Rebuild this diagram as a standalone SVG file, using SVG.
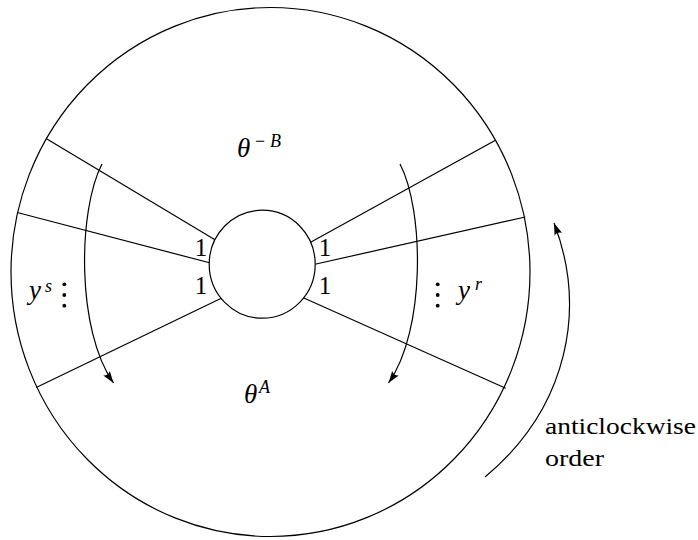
<svg xmlns="http://www.w3.org/2000/svg" width="698" height="540" viewBox="0 0 698 540" font-family="'Times New Roman', 'Liberation Serif', serif">
<defs>
<marker id="ah" viewBox="-13 -5 14 10" refX="0" refY="0" markerWidth="14" markerHeight="10" orient="auto" markerUnits="userSpaceOnUse">
<path d="M0,0 L-12,-4 Q-9,0 -12,4 Z" fill="#000"/>
</marker>
</defs>
<g id="outer" fill="none" stroke="#000" stroke-width="1.2">
<ellipse cx="270.5" cy="272" rx="259.5" ry="264.5"/>
</g>
<g id="connectors" fill="none" stroke="#000" stroke-width="1.2">
<line x1="46.5" y1="138.8" x2="222" y2="244"/>
<line x1="17.2" y1="212.5" x2="220" y2="265.5"/>
<line x1="36.2" y1="387.5" x2="228" y2="295"/>
<line x1="495" y1="140.5" x2="302" y2="247"/>
<line x1="525.3" y1="217" x2="305" y2="266.5"/>
<line x1="505.7" y1="388.2" x2="296" y2="294.5"/>
<path d="M102,164 C78,210 76,330 113.5,383" marker-end="url(#ah)"/>
<path d="M400,164 C424,210 426,330 388.5,383" marker-end="url(#ah)"/>
<path d="M485,477 C569.5,406.6 586.4,307.2 554,223" marker-end="url(#ah)"/>
</g>
<g id="center" fill="#fff" stroke="#000" stroke-width="1.2">
<ellipse cx="262.2" cy="264.2" rx="53" ry="54"/>
</g>
<text x="201" y="256" font-size="25" text-anchor="middle">1</text>
<text x="201" y="294" font-size="25" text-anchor="middle">1</text>
<text x="325" y="256" font-size="25" text-anchor="middle">1</text>
<text x="325" y="294" font-size="25" text-anchor="middle">1</text>
<text x="237" y="157" font-size="27" font-style="italic">θ</text>
<text x="255" y="147" font-size="18">−</text>
<text x="270" y="147" font-size="18" font-style="italic">B</text>
<text x="244" y="403" font-size="27" font-style="italic">θ</text>
<text x="259" y="393" font-size="18" font-style="italic">A</text>
<text x="29" y="299" font-size="27" font-style="italic">y</text>
<text x="45" y="292" font-size="18" font-style="italic">s</text>
<text x="458" y="299" font-size="27" font-style="italic">y</text>
<text x="475" y="290" font-size="18" font-style="italic">r</text>
<text x="545" y="434" font-size="24" textLength="151" lengthAdjust="spacingAndGlyphs">anticlockwise</text>
<text x="545" y="466" font-size="24" textLength="59" lengthAdjust="spacingAndGlyphs">order</text>
<g id="dots" fill="#000">
<circle cx="64.3" cy="284.3" r="1.9"/>
<circle cx="64.3" cy="295" r="1.9"/>
<circle cx="64.3" cy="305.7" r="1.9"/>
<circle cx="437.7" cy="284.3" r="1.9"/>
<circle cx="437.7" cy="295" r="1.9"/>
<circle cx="437.7" cy="305.7" r="1.9"/>
</g>
</svg>
